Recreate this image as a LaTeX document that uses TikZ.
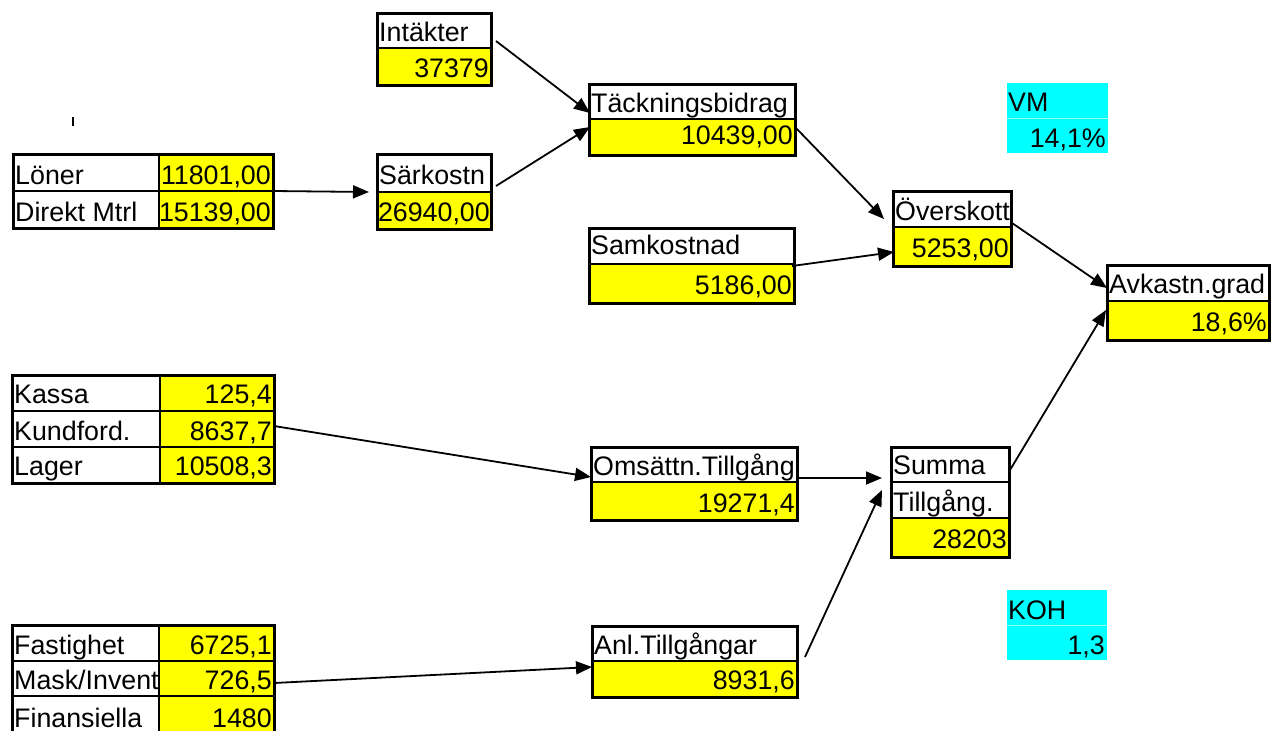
\documentclass[tikz,border=0pt]{standalone}
\usepackage{fontspec}
\setmainfont{Liberation Sans}
\usetikzlibrary{arrows.meta,calc}
\definecolor{yel}{RGB}{255,255,0}
\definecolor{cya}{RGB}{0,255,255}
\definecolor{cyalight}{RGB}{150,255,255}
\newcommand\boxfont{\fontsize{26.8}{30}\selectfont}
\begin{document}
\begin{tikzpicture}[x=1pt,y=-1pt,
 frame/.style={draw, line width=3pt, inner sep=0pt, outer sep=0pt, anchor=north west},
 cyanbox/.style={fill=cya, inner sep=0pt, outer sep=0pt, anchor=north west},
 divline/.style={line width=1.5pt},
 lbl/.style={anchor=base west, inner sep=0pt, font=\boxfont},
 val/.style={anchor=base east, inner sep=0pt, font=\boxfont},
 arr/.style={line width=1.8pt, -{Triangle[length=16pt,width=13pt]}},
]
\useasboundingbox[fill=white] (0,0) rectangle (1275,731);

% yellow value cells
\fill[yel] (377,48) rectangle (491,85);
\fill[yel] (377,192) rectangle (491,229);
\fill[yel] (159,154) rectangle (273,228);
\fill[yel] (589,119) rectangle (795,155);
\fill[yel] (589,264) rectangle (794,303);
\fill[yel] (893,227) rectangle (1011,266);
\fill[yel] (1107,301) rectangle (1269,340);
\fill[yel] (160,375) rectangle (274,483);
\fill[yel] (591,482) rectangle (797,520);
\fill[yel] (891,518) rectangle (1009,557);
\fill[yel] (159,625) rectangle (274,735);
\fill[yel] (592,661) rectangle (797,697);

% cyan boxes
\node[cyanbox, minimum width=101pt, minimum height=70pt] (vm) at (1007,83) {};
\draw[cyalight, line width=0.5pt] (1007,118) -- (1108,118);
\node[cyanbox, minimum width=100pt, minimum height=70pt] (koh) at (1007,590) {};
\draw[cyalight, line width=0.5pt] (1007,625) -- (1107,625);

% dividers
\draw[divline] (377,48) -- (491,48);
\draw[divline] (377,192) -- (491,192);
\draw[divline] (159,154) -- (159,228) (13,191) -- (273,191);
\draw[divline] (589,119) -- (795,119);
\draw[divline] (589,264) -- (794,264);
\draw[divline] (893,227) -- (1011,227);
\draw[divline] (1107,301) -- (1269,301);
\draw[divline] (160,375) -- (160,483) (12,411) -- (274,411) (12,447) -- (274,447);
\draw[divline] (591,482) -- (797,482);
\draw[divline] (891,482) -- (1009,482) (891,518) -- (1009,518);
\draw[divline] (159,625) -- (159,735) (12,661) -- (274,661) (12,696) -- (274,696);
\draw[divline] (592,661) -- (797,661);

% frames
\node[frame, minimum width=114pt, minimum height=72pt] (intak) at (377,13) {};
\node[frame, minimum width=114pt, minimum height=75pt] (sark) at (377,154) {};
\node[frame, minimum width=260pt, minimum height=74pt] (loner) at (13,154) {};
\node[frame, minimum width=206pt, minimum height=71pt] (tb) at (589,84) {};
\node[frame, minimum width=205pt, minimum height=75pt] (samk) at (589,228) {};
\node[frame, minimum width=118pt, minimum height=75pt] (over) at (893,191) {};
\node[frame, minimum width=162pt, minimum height=75pt] (avk) at (1107,265) {};
\node[frame, minimum width=262pt, minimum height=108pt] (kassa) at (12,375) {};
\node[frame, minimum width=206pt, minimum height=73pt] (oms) at (591,447) {};
\node[frame, minimum width=118pt, minimum height=110pt] (summa) at (891,447) {};
\node[frame, minimum width=262pt, minimum height=110pt] (fast) at (12,625) {};
\node[frame, minimum width=205pt, minimum height=71pt] (anl) at (592,626) {};

% small tick
\draw[line width=1.5pt] (73,117) -- (73,126);

% texts
\node[lbl] (t1) at (379,41) {Intäkter};
\node[val] (t2) at (489,77) {37379};
\node[lbl] (t3) at (15,184) {Löner};
\node[val] (t4) at (271,184) {11801,00};
\node[lbl] (t5) at (15,221) {Direkt Mtrl};
\node[val] (t6) at (271,221) {15139,00};
\node[lbl] (t7) at (379,184) {Särkostn};
\node[val] (t8) at (490,221) {26940,00};
\node[lbl] (t9) at (591,112) {Täckningsbidrag};
\node[val] (t10) at (793,144) {10439,00};
\node[lbl] (t11) at (591,254) {Samkostnad};
\node[val] (t12) at (792,294) {5186,00};
\node[lbl] (t13) at (895,220) {Överskott};
\node[val] (t14) at (1009,257) {5253,00};
\node[lbl] (t15) at (1109,293) {Avkastn.grad};
\node[val] (t16) at (1267,331) {18,6\%};
\node[lbl] (t17) at (1008,111) {VM};
\node[val] (t18) at (1106,147) {14,1\%};
\node[lbl] (t19) at (14,403) {Kassa};
\node[val] (t20) at (272,403) {125,4};
\node[lbl] (t21) at (14,440) {Kundford.};
\node[val] (t22) at (272,440) {8637,7};
\node[lbl] (t23) at (14,475) {Lager};
\node[val] (t24) at (272,475) {10508,3};
\node[lbl] (t25) at (593,475) {Omsättn.Tillgång};
\node[val] (t26) at (795,512) {19271,4};
\node[lbl] (t27) at (893,474) {Summa};
\node[lbl] (t28) at (893,511) {Tillgång.};
\node[val] (t29) at (1007,548) {28203};
\node[lbl] (t30) at (14,654) {Fastighet};
\node[val] (t31) at (272,654) {6725,1};
\node[lbl] (t32) at (14,689) {Mask/Invent};
\node[val] (t33) at (272,689) {726,5};
\node[lbl] (t34) at (14,727) {Finansiella};
\node[val] (t35) at (272,727) {1480};
\node[lbl] (t36) at (594,654) {Anl.Tillgångar};
\node[val] (t37) at (795,689) {8931,6};
\node[lbl] (t38) at (1008,619) {KOH};
\node[val] (t39) at (1105,654) {1,3};

% connectors
\draw[arr] (loner.east) -- ($(sark.west)+(-8,0.5)$);
\draw[arr] ($(intak.east)+(5,-8)$) -- ($(tb.west)+(1,-6.5)$);
\draw[arr] ($(sark.east)+(5,-5.5)$) -- ($(tb.west)+(1,7.5)$);
\draw[arr] ($(tb.east)+(0,7.5)$) -- ($(over.west)+(-9,-9.5)$);
\draw[arr] ($(samk.east)+(-2,0.5)$) -- ($(over.west)+(1,23.5)$);
\draw[arr] ($(over.east)+(1,-5.5)$) -- ($(avk.west)+(0,-14.5)$);
\draw[arr] ($(summa.east)+(1,-32)$) -- ($(avk.west)+(-1,7.5)$);
\draw[arr] ($(kassa.east)+(0,-3)$) -- ($(oms.west)+(0,-6.5)$);
\draw[arr] ($(oms.east)+(1,-5.5)$) -- ($(summa.west)+(-9,-24)$);
\draw[arr] ($(fast.east)+(0,3)$) -- ($(anl.west)+(0,5.5)$);
\draw[arr] ($(anl.east)+(8,-4.5)$) -- ($(summa.west)+(-9,-12)$);
\end{tikzpicture}
\end{document}
